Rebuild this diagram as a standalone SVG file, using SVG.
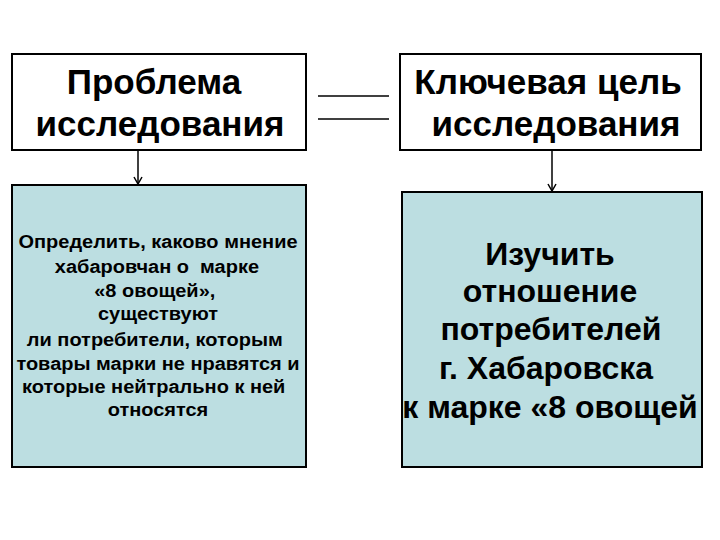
<svg xmlns="http://www.w3.org/2000/svg" width="720" height="540" viewBox="0 0 720 540">
<style>
.box{stroke:#000;stroke-width:2}
.top{fill:#fff}
.bot{fill:#BCDEE1}
.t{font-family:"Liberation Sans",Arial,sans-serif;font-weight:bold;fill:#000;text-anchor:middle}
.big{font-size:35px}
.mid{font-size:32px}
.small{font-size:18.5px}
.conn{stroke:#000;stroke-width:1.5;fill:none}
</style>
<defs>
<marker id="arr" markerWidth="10" markerHeight="10" refX="8" refY="5" orient="auto" markerUnits="userSpaceOnUse">
<path d="M1,1 L8,5 L1,9" fill="none" stroke="#000" stroke-width="1.5"/>
</marker>
</defs>
<rect width="720" height="540" fill="#fff"/>
<g id="connectors">
<line class="conn" x1="318" y1="96" x2="389" y2="96"/>
<line class="conn" x1="318" y1="119" x2="389" y2="119"/>
<line class="conn" x1="138" y1="151" x2="138" y2="184" marker-end="url(#arr)"/>
<line class="conn" x1="552" y1="151" x2="552" y2="191" marker-end="url(#arr)"/>
</g>
<g id="problem">
<rect class="box top" x="12" y="54" width="294" height="96"/>
<text class="t big" x="154" y="94">Проблема</text>
<text class="t big" x="160" y="136">исследования</text>
</g>
<g id="goal">
<rect class="box top" x="400" y="54" width="301" height="96"/>
<text class="t big" x="548" y="94">Ключевая цель</text>
<text class="t big" x="556" y="136">исследования</text>
</g>
<g id="problem-detail">
<rect class="box bot" x="12" y="185" width="294" height="282"/>
<g transform="translate(158,0) scale(1.08,1)">
<text class="t small" x="0" y="248">Определить, каково мнение</text>
<text class="t small" x="-1" y="273" xml:space="preserve">хабаровчан о  марке</text>
<text class="t small" x="-3" y="297">«8 овощей»,</text>
<text class="t small" x="0" y="320">существуют</text>
<text class="t small" x="-3" y="346">ли потребители, которым</text>
<text class="t small" x="0" y="370">товары марки не нравятся и</text>
<text class="t small" x="-4" y="393">которые нейтрально к ней</text>
<text class="t small" x="0" y="416">относятся</text>
</g>
</g>
<g id="goal-detail">
<rect class="box bot" x="402" y="192" width="300" height="275"/>
<text class="t mid" x="550" y="265">Изучить</text>
<text class="t mid" x="550" y="302">отношение</text>
<text class="t mid" x="551" y="340">потребителей</text>
<text class="t mid" x="546" y="379">г. Хабаровска</text>
<text class="t mid" x="550" y="418">к марке «8 овощей</text>
</g>
</svg>
